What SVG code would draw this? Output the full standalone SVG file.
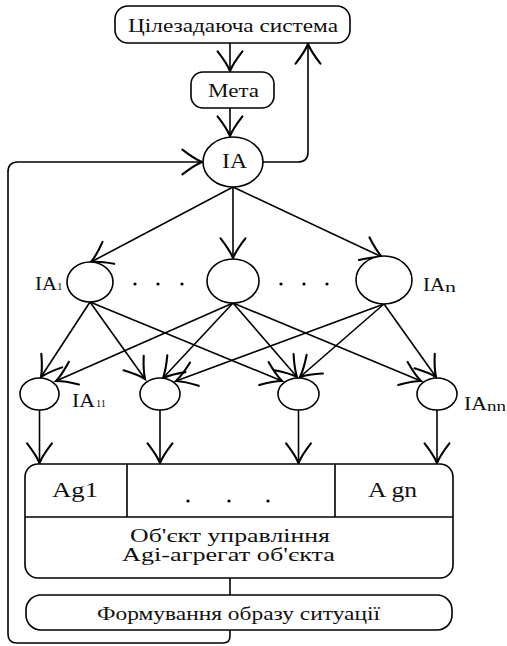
<svg xmlns="http://www.w3.org/2000/svg" width="507" height="646" viewBox="0 0 507 646">
  <style>
    .shape { fill: #fff; stroke: #000; stroke-width: 1.6; }
    .line { fill: none; stroke: #000; stroke-width: 1.6; }
    .arrow { fill: none; stroke: #000; stroke-width: 1.6; marker-end: url(#tip); }
    text { font-family: "Liberation Serif", "Times New Roman", serif; fill: #111; }
    .t18 { font-size: 18px; }
    .t20 { font-size: 20px; }
    .sub { font-size: 11px; }
    .dot { fill: #000; }
  </style>
  <defs>
    <!-- open arrowhead with flared barbs -->
    <marker id="tip" markerUnits="userSpaceOnUse" markerWidth="34" markerHeight="34" viewBox="-17 -13 19 26" refX="0" refY="0" orient="auto" overflow="visible">
      <path d="M-15,-9.5 Q-6,-2.5 0,0 Q-6,2.5 -15,9.5" fill="none" stroke="#000" stroke-width="1.6" stroke-linecap="round"/>
    </marker>
  </defs>

  <!-- connectors -->
  <g id="connectors">
    <!-- goal chain -->
    <path class="arrow" d="M230,43 V71"/>
    <path class="arrow" d="M230,108 V136"/>
    <path class="arrow" d="M263,162 H298 Q308,162 308,152 V44"/>
    <!-- feedback loop -->
    <path class="arrow" d="M230,630 V636 Q230,643 223,643 H17 Q8,643 8,634 V172 Q8,162 18,162 H202"/>
    <!-- IA to first level -->
    <path class="arrow" d="M233,187 L91,262"/>
    <path class="arrow" d="M233,187 V258"/>
    <path class="arrow" d="M233,187 L382,257"/>
    <!-- first level to second level -->
    <path class="arrow" d="M90,302 L41,377"/>
    <path class="arrow" d="M90,302 L145,379"/>
    <path class="arrow" d="M90,302 L282,381"/>
    <path class="arrow" d="M233,303 L56,381"/>
    <path class="arrow" d="M233,303 L163,378"/>
    <path class="arrow" d="M233,303 L297,377"/>
    <path class="arrow" d="M233,303 L421,381"/>
    <path class="arrow" d="M384,304 L176,381"/>
    <path class="arrow" d="M384,304 L300,377"/>
    <path class="arrow" d="M384,304 L436,377"/>
    <!-- second level to aggregates -->
    <path class="arrow" d="M39.5,410 V463"/>
    <path class="arrow" d="M160,410 V463"/>
    <path class="arrow" d="M298.5,410 V463"/>
    <path class="arrow" d="M437,410 V463"/>
    <!-- object to situation image -->
    <path class="line" d="M230,578 V595"/>
  </g>

  <g id="goal-system">
    <rect class="shape" x="115" y="6" width="235" height="37" rx="13"/>
    <text class="t18" x="128" y="32" textLength="210" lengthAdjust="spacingAndGlyphs">Цілезадаюча система</text>
  </g>

  <g id="goal">
    <rect class="shape" x="191" y="72" width="83" height="36" rx="12"/>
    <text class="t18" x="208" y="97" textLength="51" lengthAdjust="spacingAndGlyphs">Мета</text>
  </g>

  <g id="ia">
    <ellipse class="shape" cx="233" cy="162" rx="30" ry="25"/>
    <text class="t20" x="222" y="168" textLength="25" lengthAdjust="spacingAndGlyphs">IA</text>
  </g>

  <g id="ia-1">
    <ellipse class="shape" cx="90" cy="282" rx="23" ry="20"/>
    <text class="t18" x="35" y="290" textLength="22" lengthAdjust="spacingAndGlyphs">IA</text>
    <text class="sub" x="57" y="290">1</text>
  </g>

  <g id="ia-mid">
    <ellipse class="shape" cx="233" cy="281" rx="26" ry="22"/>
  </g>

  <g id="ia-n">
    <ellipse class="shape" cx="384" cy="280" rx="28" ry="24"/>
    <text class="t18" x="423" y="291" textLength="22" lengthAdjust="spacingAndGlyphs">IA</text>
    <text x="445" y="292" font-size="15" textLength="11" lengthAdjust="spacingAndGlyphs">n</text>
  </g>

  <g id="level1-dots">
    <circle class="dot" cx="135" cy="284" r="1.6"/>
    <circle class="dot" cx="158" cy="284" r="1.6"/>
    <circle class="dot" cx="182" cy="284" r="1.6"/>
    <circle class="dot" cx="281" cy="284" r="1.6"/>
    <circle class="dot" cx="304" cy="284" r="1.6"/>
    <circle class="dot" cx="327" cy="284" r="1.6"/>
  </g>

  <g id="ia-11">
    <ellipse class="shape" cx="39.5" cy="394" rx="19.5" ry="16"/>
    <text class="t18" x="72" y="407" textLength="23" lengthAdjust="spacingAndGlyphs">IA</text>
    <text class="sub" x="96" y="407" textLength="10" lengthAdjust="spacingAndGlyphs">11</text>
  </g>

  <g id="ia-12">
    <ellipse class="shape" cx="160" cy="394" rx="20" ry="16"/>
  </g>

  <g id="ia-13">
    <ellipse class="shape" cx="298.5" cy="394" rx="20.5" ry="16"/>
  </g>

  <g id="ia-nn">
    <ellipse class="shape" cx="437" cy="394" rx="20" ry="16"/>
    <text class="t18" x="464" y="410" textLength="23" lengthAdjust="spacingAndGlyphs">IA</text>
    <text x="487" y="411" font-size="14" textLength="19" lengthAdjust="spacingAndGlyphs">nn</text>
  </g>

  <g id="control-object">
    <rect class="shape" x="25" y="464" width="428" height="114" rx="13"/>
    <path class="line" d="M25,517 H453 M127,464 V517 M335,464 V517"/>
    <text class="t20" x="52" y="497" textLength="46" lengthAdjust="spacingAndGlyphs">Ag1</text>
    <circle class="dot" cx="188" cy="501" r="1.6"/>
    <circle class="dot" cx="229" cy="501" r="1.6"/>
    <circle class="dot" cx="268" cy="501" r="1.6"/>
    <text class="t20" x="368" y="497" textLength="49" lengthAdjust="spacingAndGlyphs">A gn</text>
    <text class="t18" x="130" y="542" textLength="200" lengthAdjust="spacingAndGlyphs">Об'єкт управління</text>
    <text class="t18" x="122" y="561" textLength="213" lengthAdjust="spacingAndGlyphs">Agi-агрегат об'єкта</text>
  </g>

  <g id="situation-image">
    <rect class="shape" x="26" y="595" width="426" height="35" rx="15"/>
    <text class="t18" x="97" y="620" textLength="283" lengthAdjust="spacingAndGlyphs">Формування образу ситуації</text>
  </g>
</svg>
